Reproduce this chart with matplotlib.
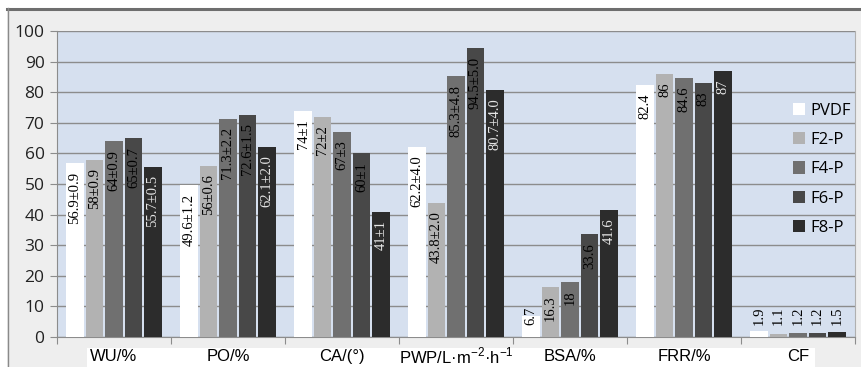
import numpy as np
import matplotlib.pyplot as plt
from matplotlib.patches import Rectangle
from matplotlib.lines import Line2D

plt.rcParams['mathtext.fontset'] = 'custom'
plt.rcParams['mathtext.rm'] = 'Liberation Sans'

categories = ['WU/%', 'PO/%', 'CA/(°)', r'PWP/L·m$^{\mathregular{-2}}$·h$^{\mathregular{-1}}$',
              'BSA/%', 'FRR/%', 'CF']
series = ['PVDF', 'F2-P', 'F4-P', 'F6-P', 'F8-P']
colors = ['#ffffff', '#b2b2b2', '#707070', '#484848', '#2c2c2c']
text_colors = ['black', 'black', 'black', 'black', '#e6e6e6']

values = [
    [56.9, 49.6, 74, 62.2, 6.7, 82.4, 1.9],
    [58, 56, 72, 43.8, 16.3, 86, 1.1],
    [64, 71.3, 67, 85.3, 18, 84.6, 1.2],
    [65, 72.6, 60, 94.5, 33.6, 83, 1.2],
    [55.7, 62.1, 41, 80.7, 41.6, 87, 1.5],
]
labels = [
    ['56.9±0.9', '49.6±1.2', '74±1', '62.2±4.0', '6.7', '82.4', '1.9'],
    ['58±0.9', '56±0.6', '72±2', '43.8±2.0', '16.3', '86', '1.1'],
    ['64±0.9', '71.3±2.2', '67±3', '85.3±4.8', '18', '84.6', '1.2'],
    ['65±0.7', '72.6±1.5', '60±1', '94.5±5.0', '33.6', '83', '1.2'],
    ['55.7±0.5', '62.1±2.0', '41±1', '80.7±4.0', '41.6', '87', '1.5'],
]

fig = plt.figure(figsize=(8.61, 3.67), dpi=100, facecolor='white')

# grey chart frame behind everything
fig.patches.append(Rectangle((7 / 861, 0), 1, 1 - 8 / 367, transform=fig.transFigure,
                             facecolor='#eeeeee', edgecolor='none', zorder=-10))
fig.add_artist(Line2D([7 / 861, 1], [1 - 8.5 / 367] * 2, transform=fig.transFigure,
                      color='#6e6e6e', lw=2.2))
fig.add_artist(Line2D([7.5 / 861] * 2, [0, 1 - 8 / 367], transform=fig.transFigure,
                      color='#8a8a8a', lw=1))
# white strip under the category names
fig.patches.append(Rectangle((87 / 861, 0), (815 - 87) / 861, 19 / 367, transform=fig.transFigure,
                             facecolor='white', edgecolor='none', zorder=-5))

ax = fig.add_axes([57 / 861, 1 - 337 / 367, (855 - 57) / 861, (337 - 31) / 367])
ax.set_facecolor('#d6e0ef')

x = np.arange(len(categories))
pitch = 0.171
width = 0.154
for i, name in enumerate(series):
    xs = x + (i - 2) * pitch
    ax.bar(xs, values[i], width, color=colors[i], label=name, zorder=3, edgecolor='none')
    for xx, v, lab in zip(xs, values[i], labels[i]):
        if v < 12:
            ax.text(xx, 4, lab, rotation=90, ha='center', va='bottom', fontsize=10.5,
                    family='Liberation Serif', color='black', zorder=4)
        else:
            ax.text(xx, v - 2.8, lab, rotation=90, ha='center', va='top', fontsize=10.5,
                    family='Liberation Serif', color=text_colors[i], zorder=4)

ax.set_xlim(-0.5, len(categories) - 0.5)
ax.set_ylim(0, 100)
ax.set_yticks(np.arange(0, 101, 10))
ax.yaxis.grid(True, color='#8c8c8c', lw=1, zorder=0)
ax.tick_params(axis='y', length=5, color='#8c8c8c', labelsize=12.5, pad=4, labelcolor='#222222')
for t in ax.get_yticklabels():
    t.set_family('Open Sans')

# ticks between groups, names centered under each group
ax.set_xticks(np.arange(-0.5, len(categories) + 0.5, 1))
ax.set_xticklabels([])
ax.tick_params(axis='x', length=5, color='#8c8c8c')
for xx, c in zip(x, categories):
    ax.text(xx, -0.064, c, transform=ax.get_xaxis_transform(), ha='center', va='center',
            fontsize=12, family='Liberation Sans')

ax.spines['top'].set_visible(False)
ax.spines['right'].set_color('#b0b0b0')
ax.spines['left'].set_color('#8c8c8c')
ax.spines['bottom'].set_color('#8c8c8c')

leg = ax.legend(loc='upper left', bbox_to_anchor=(0.903, 0.815), frameon=False,
                handlelength=0.75, handleheight=0.75, handletextpad=0.3, labelspacing=0.8,
                prop={'family': 'Open Sans', 'size': 12})

fig.savefig('out.png', dpi=100, facecolor=fig.get_facecolor())
